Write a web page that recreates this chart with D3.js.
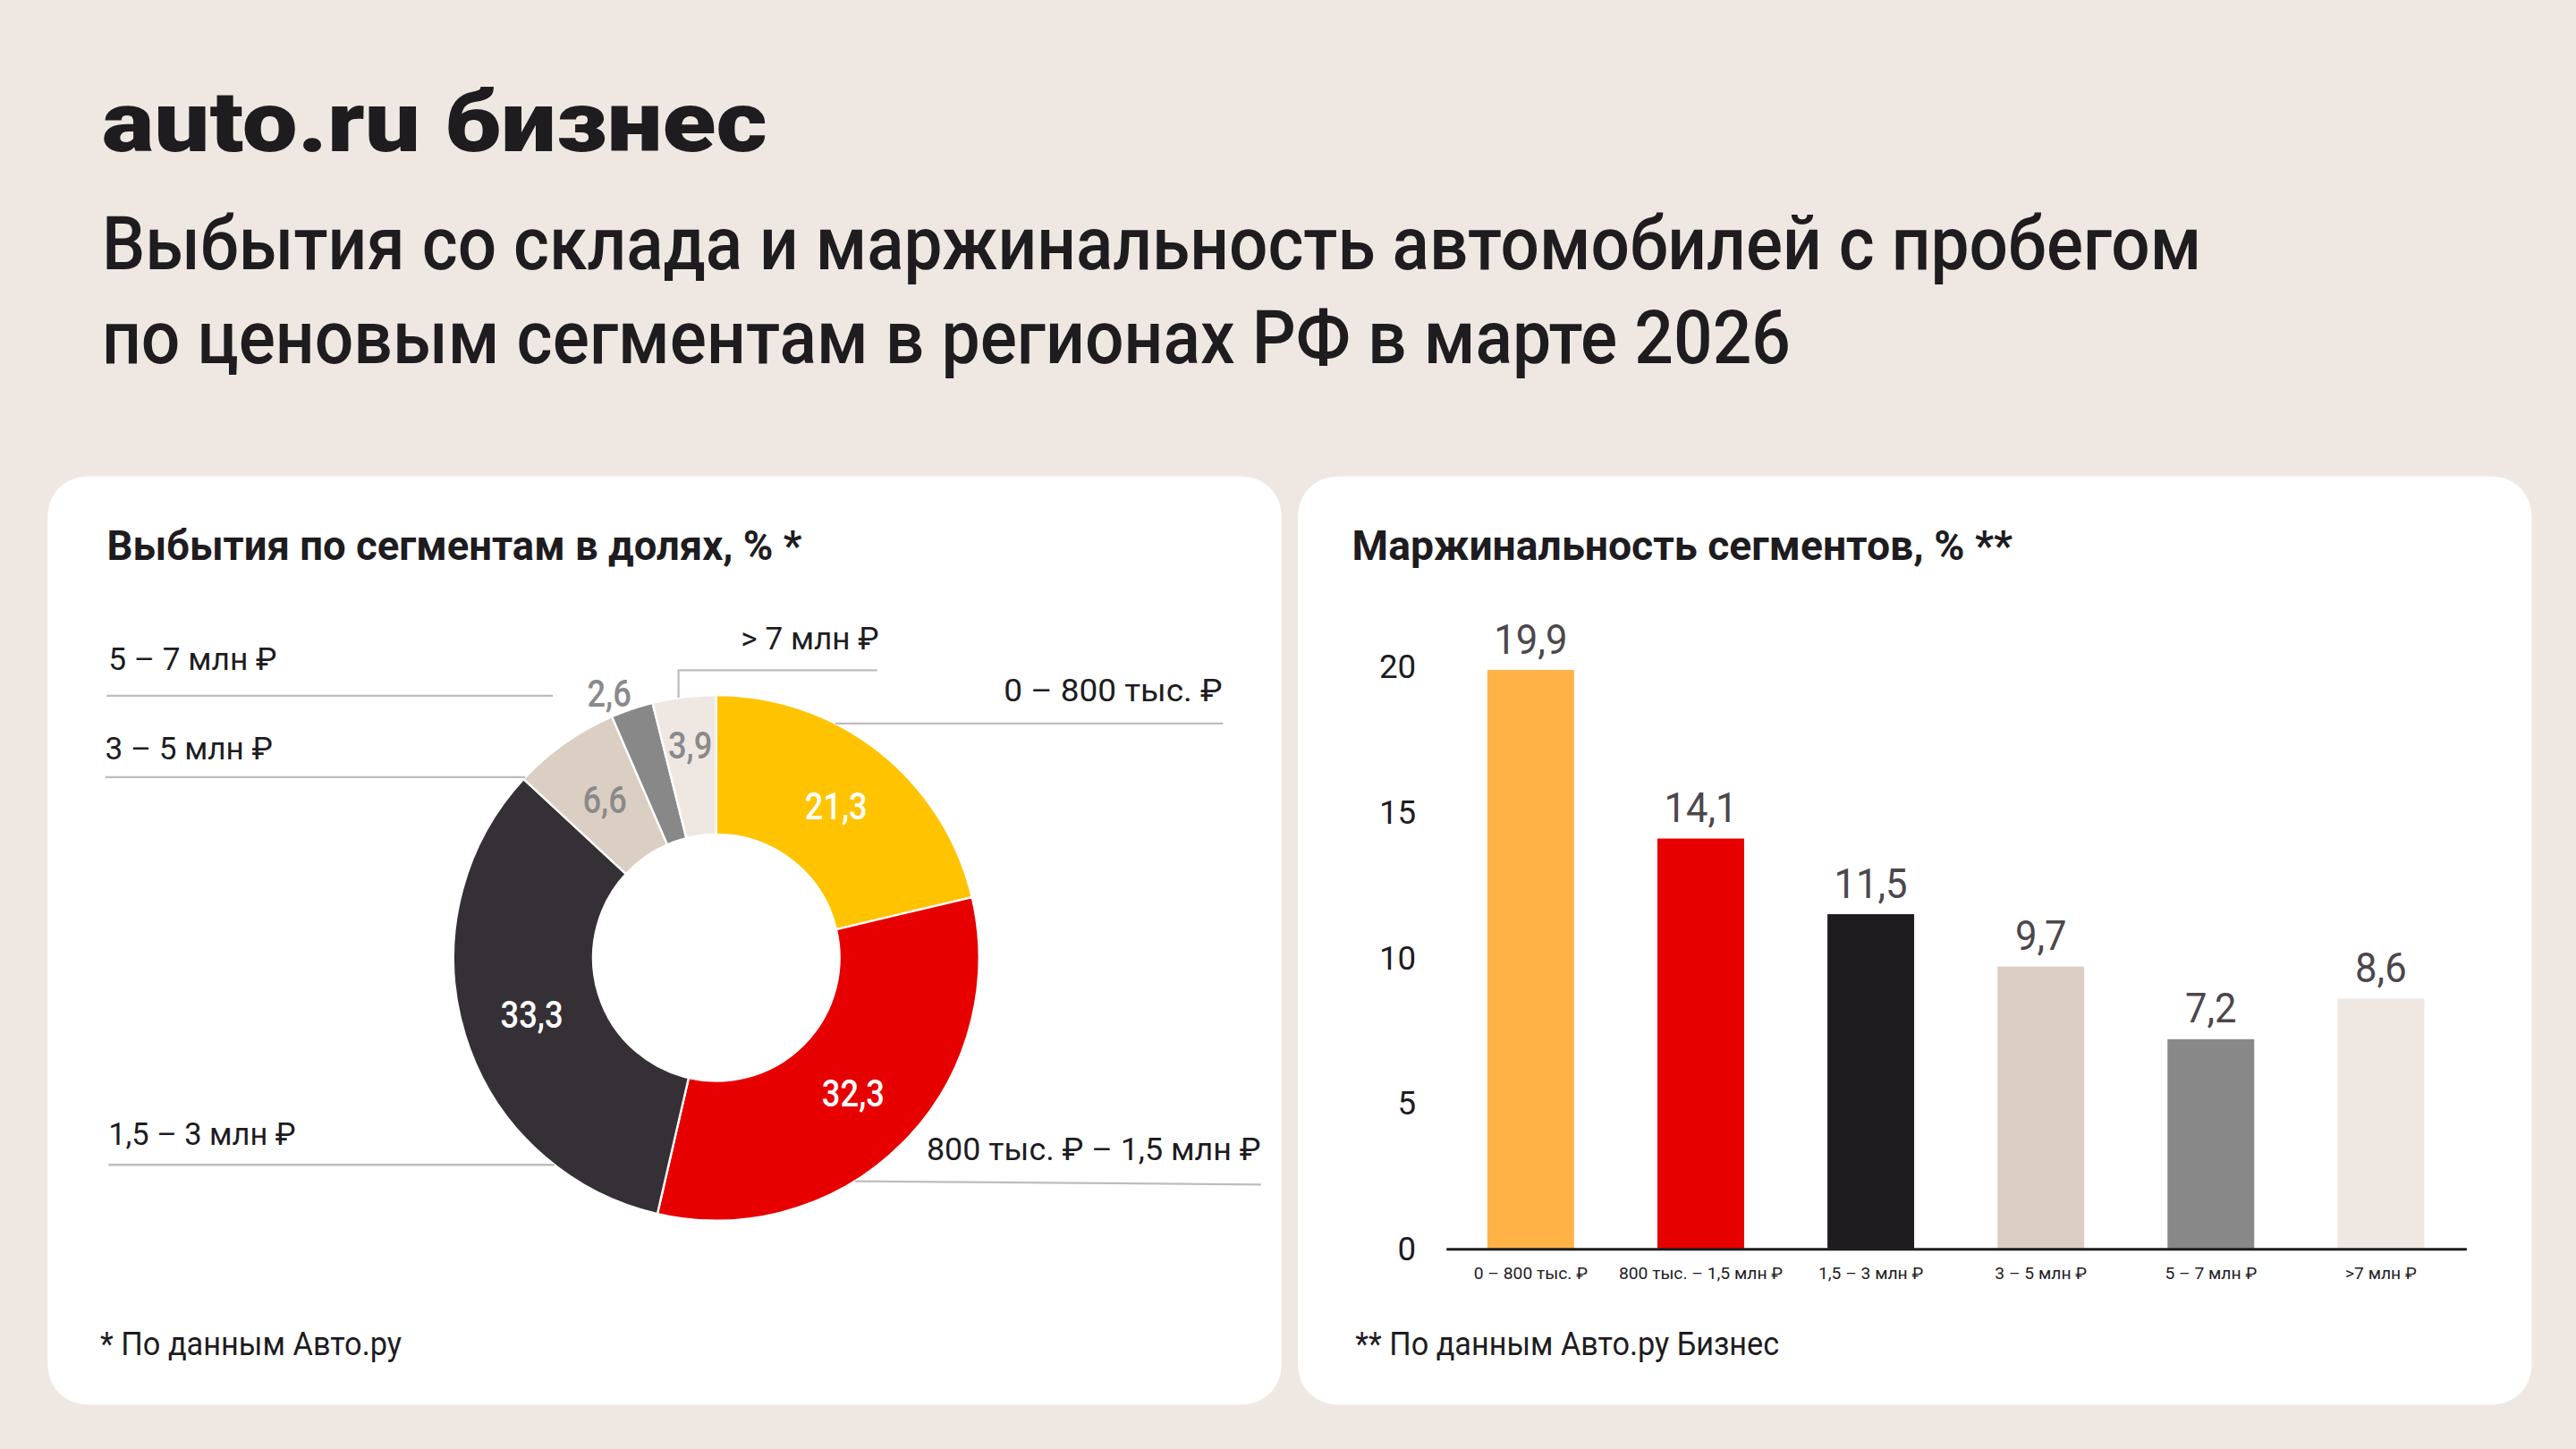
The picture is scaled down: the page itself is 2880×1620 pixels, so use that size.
<!DOCTYPE html>
<html>
<head>
<meta charset="utf-8">
<script src="https://cdn.jsdelivr.net/npm/d3@7"></script>
<style>
  html, body { margin: 0; padding: 0; background: #EFE8E2; }
  svg { display: block; }
  text { font-family: Roboto, "Noto Sans", sans-serif; fill: #1E1C1F; }
</style>
</head>
<body>
<svg id="chart" width="2880" height="1620" viewBox="0 0 1568 882"></svg>
<script>
// --- data ---
var segments = ["0 – 800 тыс. ₽", "800 тыс. ₽ – 1,5 млн ₽", "1,5 – 3 млн ₽", "3 – 5 млн ₽", "5 – 7 млн ₽", "> 7 млн ₽"];
var shareValues = [21.3, 32.3, 33.3, 6.6, 2.6, 3.9];
var marginValues = [19.9, 14.1, 11.5, 9.7, 7.2, 8.6];
var barLabels = ["0 – 800 тыс. ₽", "800 тыс. – 1,5 млн ₽", "1,5 – 3 млн ₽", "3 – 5 млн ₽", "5 – 7 млн ₽", ">7 млн ₽"];
var yTicks = [0, 5, 10, 15, 20];

var donutColors = ["#FFC300", "#E60000", "#353035", "#DBCFC3", "#888888", "#EFE8E2"];
var barColors = ["#FFB347", "#E60000", "#1E1C1F", "#DBCFC3", "#888888", "#EFE8E2"];

var svg = d3.select("#chart");
var comma = function(v) { return d3.format(".1f")(v).replace(".", ","); };

// stretch/squeeze text to a given width (the original face is narrower)
function fit(sel, w) {
  sel.attr("textLength", w).attr("lengthAdjust", "spacingAndGlyphs");
}
function squeeze(sel, k) {
  sel.each(function() {
    var n = this.getComputedTextLength();
    d3.select(this).attr("textLength", n * k).attr("lengthAdjust", "spacingAndGlyphs");
  });
}

// --- header ---
svg.append("text").attr("x", 62).attr("y", 92)
  .style("font-size", "51px").style("font-weight", 900)
  .text("auto.ru бизнес").call(fit, 405);

svg.append("text").attr("x", 62).attr("y", 164)
  .style("font-size", "45px").style("font-weight", 500)
  .text("Выбытия со склада и маржинальность автомобилей с пробегом").call(fit, 1278);
svg.append("text").attr("x", 62).attr("y", 221)
  .style("font-size", "45px").style("font-weight", 500)
  .text("по ценовым сегментам в регионах РФ в марте 2026").call(fit, 1028);

// panels
[29, 790].forEach(function(px) {
  svg.append("rect").attr("x", px).attr("y", 290).attr("width", 751).attr("height", 565)
    .attr("rx", 24).attr("fill", "#fff");
});

// --- left: donut ---
svg.append("text").attr("x", 65).attr("y", 341)
  .style("font-size", "25px").style("font-weight", 700)
  .text("Выбытия по сегментам в долях, % *").call(fit, 423);

var cx = 436, cy = 583, R = 160, R0 = 75;
var pie = d3.pie().sort(null).value(function(d) { return d; });
var arc = d3.arc().innerRadius(R0).outerRadius(R);
var arcs = pie(shareValues);

var donut = svg.append("g").attr("transform", "translate(" + cx + "," + cy + ")");

donut.selectAll("path").data(arcs).join("path")
  .attr("d", arc)
  .attr("fill", function(d, i) { return donutColors[i]; })
  .attr("stroke", "#fff").attr("stroke-width", 1.3);

// label radius/offset per slice (small slices pushed out)
var labelR = [117.5, 117.5, 117.5, 117.5, 175, 130];
var labelOff = [[0, 0], [0, 0], [0, 0], [0, 0], [-9, 5], [0, 0]];
donut.selectAll("text.val").data(arcs).join("text")
  .attr("class", "val")
  .attr("x", function(d, i) { var a = (d.startAngle + d.endAngle) / 2; return Math.sin(a) * labelR[i] + labelOff[i][0]; })
  .attr("y", function(d, i) { var a = (d.startAngle + d.endAngle) / 2; return -Math.cos(a) * labelR[i] + labelOff[i][1]; })
  .attr("text-anchor", "middle").attr("dominant-baseline", "central")
  .style("font-size", "23px").style("font-weight", 500)
  .style("fill", function(d, i) { return i < 3 ? "#fff" : "#8A8A8A"; })
  .text(function(d) { return comma(d.data); })
  .call(squeeze, 0.86);

// leader lines and segment names
function edgeX(y, side) { return cx + side * Math.sqrt(R * R - (y - cy) * (y - cy)); }
var lead = [
  { i: 0, tx: 744, ty: 427, anchor: "end", w: 133, pts: [[edgeX(440.4, 1), 440.4], [744.5, 440.4]] },
  { i: 1, tx: 767.5, ty: 706, anchor: "end", w: 203.5, pts: [[edgeX(719, 1), 719], [767.5, 721]] },
  { i: 2, tx: 66, ty: 697, anchor: "start", w: 114, pts: [[66, 709], [edgeX(709, -1), 709]] },
  { i: 3, tx: 64, ty: 462, anchor: "start", w: 102, pts: [[64, 473], [edgeX(473, -1), 473]] },
  { i: 4, tx: 66, ty: 408, anchor: "start", w: 102.5, pts: [[65, 423.5], [336.5, 423.5]] },
  { i: 5, tx: 451, ty: 395.5, anchor: "start", w: 84, pts: [[534, 408], [413, 408], [413, cy - Math.sqrt(R * R - 23 * 23)]] }
];
var line = d3.line();
svg.selectAll("path.lead").data(lead).join("path")
  .attr("class", "lead")
  .attr("d", function(d) { return line(d.pts); })
  .attr("fill", "none").attr("stroke", "#BDBDBD").attr("stroke-width", 1.25);
svg.selectAll("text.seg").data(lead).join("text")
  .attr("class", "seg")
  .attr("x", function(d) { return d.tx; }).attr("y", function(d) { return d.ty; })
  .attr("text-anchor", function(d) { return d.anchor; })
  .style("font-size", "19px")
  .text(function(d) { return segments[d.i]; })
  .each(function(d) { d3.select(this).call(fit, d.w); });

svg.append("text").attr("x", 61).attr("y", 825)
  .style("font-size", "20px")
  .text("* По данным Авто.ру").call(fit, 183.5);

// --- right: bars ---
svg.append("text").attr("x", 823).attr("y", 341)
  .style("font-size", "25px").style("font-weight", 700)
  .text("Маржинальность сегментов, % **").call(fit, 402);

var y = d3.scaleLinear().domain([0, 20]).range([760, 406]);
var x = d3.scaleBand().domain(barLabels).range([880, 1501]).paddingInner(0.49).paddingOuter(0.245);

var yAxis = svg.append("g").attr("transform", "translate(862,0)")
  .call(d3.axisLeft(y).tickValues(yTicks).tickSize(0).tickPadding(0));
yAxis.select(".domain").remove();
yAxis.selectAll("text").attr("fill", "#1E1C1F").style("font-size", "20px")
  .style("font-family", "Roboto, sans-serif");

svg.selectAll("rect.bar").data(marginValues).join("rect")
  .attr("class", "bar")
  .attr("x", function(d, i) { return x(barLabels[i]); })
  .attr("y", function(d) { return y(d); })
  .attr("width", x.bandwidth())
  .attr("height", function(d) { return y(0) - y(d); })
  .attr("fill", function(d, i) { return barColors[i]; });

svg.selectAll("text.bv").data(marginValues).join("text")
  .attr("class", "bv")
  .attr("x", function(d, i) { return x(barLabels[i]) + x.bandwidth() / 2; })
  .attr("y", function(d) { return y(d) - 10; })
  .attr("text-anchor", "middle")
  .style("font-size", "25px").style("fill", "#4D474C")
  .text(comma)
  .call(squeeze, 0.95);

var xAxis = svg.append("g").attr("transform", "translate(0,760)")
  .call(d3.axisBottom(x).tickSize(0).tickSizeOuter(0).tickPadding(11));
xAxis.select(".domain").attr("stroke", "#1E1C1F").attr("stroke-width", 1.6);
xAxis.selectAll("text").attr("fill", "#1E1C1F").style("font-size", "10.5px")
  .style("font-family", "Roboto, sans-serif");

svg.append("text").attr("x", 825).attr("y", 825)
  .style("font-size", "20px")
  .text("** По данным Авто.ру Бизнес").call(fit, 258);
</script>
</body>
</html>
